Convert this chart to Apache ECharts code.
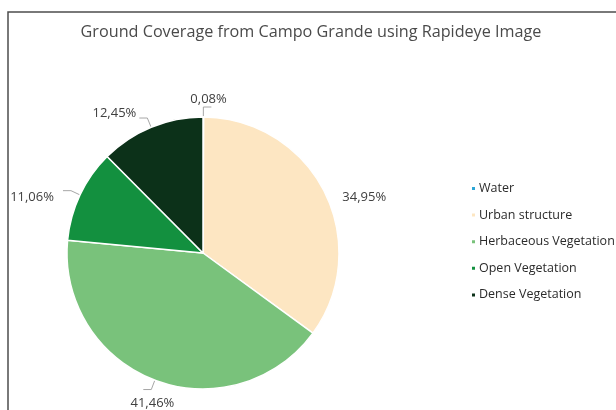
<!DOCTYPE html>
<html>
<head>
<meta charset="utf-8">
<script src="https://cdn.jsdelivr.net/npm/echarts@6/dist/echarts.min.js"></script>
<style>
  html, body { margin: 0; padding: 0; background: #ffffff; }
  #chart { width: 616px; height: 410px; }
</style>
</head>
<body>
<div id="chart"></div>
<script>
// Land cover classes and their share of the mapped area (%)
const categories = ['Water', 'Urban structure', 'Herbaceous Vegetation', 'Open Vegetation', 'Dense Vegetation'];
const shares = [0.08, 34.95, 41.46, 11.06, 12.45];
const colors = ['#2ba6d6', '#fde6c2', '#79c27b', '#13903f', '#0c3119'];
// callouts whose leader line is drawn
const showLeader = [true, false, true, true, true];

// small nudges so the callouts sit where a spreadsheet would put them
const labelNudge = [
  { dx: -26, dy: -8 },
  { dx: -4, dy: 10 },
  { dx: 36, dy: 14 },
  { dx: -4, dy: 7 },
  { dx: 2, dy: -5 }
];

const chart = echarts.init(document.getElementById('chart'));

const fontFamily = '"Open Sans", "Liberation Sans", sans-serif';

chart.setOption({
  backgroundColor: '#ffffff',
  animation: false,
  title: {
    text: 'Ground Coverage from Campo Grande using Rapideye Image',
    left: 306,
    textAlign: 'center',
    top: 19,
    textStyle: { fontFamily, fontSize: 16.2, fontWeight: 'normal', color: '#4a4a4a' }
  },
  legend: {
    orient: 'vertical',
    left: 465,
    top: 177,
    itemWidth: 5,
    itemHeight: 5,
    itemGap: 13.6,
    icon: 'rect',
    data: categories,
    textStyle: { fontFamily, fontSize: 12.5, color: '#2b2b2b', padding: [0, 0, 0, -2] }
  },
  graphic: [{
    type: 'polyline',
    shape: { points: [[8, 420], [8, 12], [620, 12]] },
    style: { stroke: '#4d4d4d', lineWidth: 1.5, fill: null }
  }],
  series: [{
    type: 'pie',
    center: [203, 253],
    radius: 136,
    startAngle: 90,
    clockwise: true,
    avoidLabelOverlap: false,
    itemStyle: { borderColor: '#ffffff', borderWidth: 1.5 },
    label: {
      position: 'outside',
      fontFamily,
      fontSize: 13,
      color: '#404040',
      formatter: p => p.value.toFixed(2).replace('.', ',') + '%'
    },
    labelLine: { length: 10, length2: 8, lineStyle: { color: '#a6a6a6', width: 1 } },
    labelLayout: p => labelNudge[p.dataIndex],
    data: categories.map((name, i) => ({
      name,
      value: shares[i],
      itemStyle: { color: colors[i] },
      labelLine: { show: showLeader[i] }
    }))
  }]
});
</script>
</body>
</html>
